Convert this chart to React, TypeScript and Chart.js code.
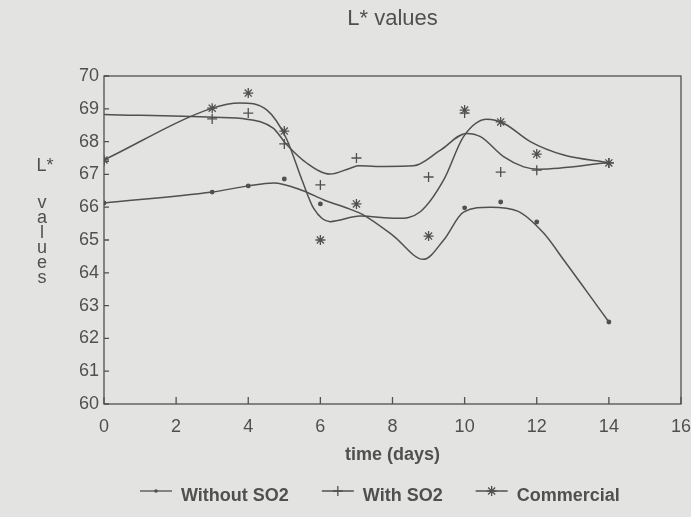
import React, { useEffect, useRef } from "react";
import { Chart, registerables } from "chart.js";

Chart.register(...registerables);

const FONT = '"Liberation Sans", Arial, Helvetica, sans-serif';
const INK = "#505050";
const PAPER = "#e3e3e1";

const chartTitle = "L* values";
const xTitle = "time (days)";
const yTitleTop = "L*";
const yTitleLetters = ["v", "a", "l", "u", "e", "s"];
const seriesNames = ["Without SO2", "With SO2", "Commercial"];

const xRange = [0, 16];
const xStep = 2;
const yRange = [60, 70];
const yStep = 1;

// measured points
const withoutDays = [0, 3, 4, 5, 6, 10, 11, 12, 14];
const withoutValues = [66.13, 66.46, 66.65, 66.86, 66.1, 65.98, 66.16, 65.55, 62.5];
const sampleDays = [0, 3, 4, 5, 6, 7, 9, 10, 11, 12, 14];
const withValues = [67.4, 68.69, 68.87, 67.93, 66.68, 67.5, 66.92, 68.87, 67.07, 67.13, 67.35];
const commercialValues = [67.44, 69.02, 69.48, 68.32, 65.0, 66.1, 65.12, 68.96, 68.6, 67.62, 67.35];

// smoothed curves
const withoutCurveDays = [0, 3.0, 4.0, 4.7, 5.5, 6.1, 6.8, 7.2, 8.0, 8.86, 9.42, 9.97, 10.72, 11.47, 12.19, 12.75, 13.42, 14.0];
const withoutCurve = [66.13, 66.46, 66.65, 66.74, 66.51, 66.22, 65.95, 65.76, 65.15, 64.41, 65.0, 65.85, 66.0, 65.88, 65.21, 64.39, 63.38, 62.5];
const withCurveDays = [0, 3.03, 3.96, 4.69, 5.05, 5.63, 6.27, 6.83, 7.06, 7.8, 8.58, 9.33, 10.05, 10.44, 11.08, 11.64, 12.07, 14.0];
const withCurve = [68.83, 68.74, 68.68, 68.41, 67.93, 67.34, 67.01, 67.19, 67.26, 67.24, 67.26, 67.74, 68.25, 68.15, 67.54, 67.23, 67.16, 67.36];
const commercialCurveDays = [0, 3.0, 3.77, 4.52, 5.05, 5.49, 5.81, 6.27, 7.1, 8.12, 8.77, 9.42, 9.97, 10.62, 11.08, 11.82, 12.75, 14.0];
const commercialCurve = [67.44, 69.02, 69.18, 68.96, 68.11, 66.83, 65.97, 65.56, 65.73, 65.66, 65.86, 66.83, 68.15, 68.68, 68.56, 68.0, 67.59, 67.36];

const markerStyles = [
  { style: "circle", r: 1.8 },
  { style: "cross", r: 5 },
  { style: "star", r: 5 },
];

const pts = (xs: number[], ys: number[]) => xs.map((x, i) => ({ x, y: ys[i] }));

function drawMarker(ctx: CanvasRenderingContext2D, style: string, x: number, y: number, r: number) {
  ctx.beginPath();
  if (style === "circle") {
    ctx.arc(x, y, r, 0, Math.PI * 2);
    ctx.fill();
    return;
  }
  ctx.moveTo(x - r, y);
  ctx.lineTo(x + r, y);
  ctx.moveTo(x, y - r);
  ctx.lineTo(x, y + r);
  if (style === "star") {
    const d = r * Math.SQRT1_2;
    ctx.moveTo(x - d, y - d);
    ctx.lineTo(x + d, y + d);
    ctx.moveTo(x - d, y + d);
    ctx.lineTo(x + d, y - d);
  }
  ctx.stroke();
}

const paperPlugin = {
  id: "paper",
  beforeDraw(chart: any) {
    const ctx = chart.ctx;
    ctx.save();
    ctx.fillStyle = PAPER;
    ctx.fillRect(0, 0, chart.width, chart.height);
    ctx.restore();
  },
};

const framePlugin = {
  id: "frame",
  afterDatasetsDraw(chart: any) {
    const { ctx, chartArea: a } = chart;
    ctx.save();
    ctx.strokeStyle = INK;
    ctx.lineWidth = 1.3;
    ctx.strokeRect(a.left, a.top, a.right - a.left, a.bottom - a.top);
    const ys = chart.scales.y;
    ctx.beginPath();
    ys.ticks.forEach((_t: any, i: number) => {
      const p = ys.getPixelForTick(i);
      ctx.moveTo(a.left, p);
      ctx.lineTo(a.left + 5, p);
    });
    const xs = chart.scales.x;
    xs.ticks.forEach((_t: any, i: number) => {
      const p = xs.getPixelForTick(i);
      ctx.moveTo(p, a.bottom);
      ctx.lineTo(p, a.bottom - 7);
    });
    ctx.stroke();
    ctx.restore();
  },
};

const yTitlePlugin = {
  id: "yTitleStacked",
  afterDraw(chart: any) {
    const { ctx, chartArea: a } = chart;
    ctx.save();
    ctx.fillStyle = INK;
    ctx.font = `18px ${FONT}`;
    ctx.textAlign = "center";
    ctx.textBaseline = "middle";
    ctx.fillText(yTitleTop, a.left - 59, a.top + 90);
    yTitleLetters.forEach((ch, i) => {
      ctx.fillText(ch, a.left - 62, a.top + 127 + i * 15);
    });
    ctx.restore();
  },
};

const legendPlugin = {
  id: "lineMarkerLegend",
  afterDraw(chart: any) {
    const { ctx, chartArea: a } = chart;
    ctx.save();
    ctx.font = `bold 18px ${FONT}`;
    ctx.fillStyle = INK;
    ctx.strokeStyle = INK;
    ctx.lineWidth = 1.3;
    ctx.textAlign = "left";
    ctx.textBaseline = "middle";
    const yText = chart.height - 21;
    const yLine = yText - 5;
    let x = a.left + 36;
    seriesNames.forEach((name, i) => {
      ctx.beginPath();
      ctx.moveTo(x, yLine);
      ctx.lineTo(x + 32, yLine);
      ctx.stroke();
      drawMarker(ctx, markerStyles[i].style, x + 16, yLine, markerStyles[i].r);
      ctx.fillText(name, x + 41, yText);
      x += 41 + ctx.measureText(name).width + 33;
    });
    ctx.restore();
  },
};

export default function App() {
  const ref = useRef<HTMLCanvasElement>(null);
  useEffect(() => {
    document.body.style.margin = "0";
    document.body.style.background = PAPER;
    const canvas = ref.current!;
    const lineDs = (label: string, data: any[]) => ({
      label,
      data,
      showLine: true,
      borderColor: INK,
      borderWidth: 1.5,
      pointRadius: 0,
      cubicInterpolationMode: "monotone",
      fill: false,
    });
    const markDs = (label: string, data: any[], i: number) => ({
      label,
      data,
      showLine: false,
      pointStyle: markerStyles[i].style,
      pointRadius: markerStyles[i].r,
      pointBorderWidth: 1.3,
      pointBorderColor: INK,
      pointBackgroundColor: INK,
      borderColor: INK,
      backgroundColor: INK,
    });
    const chart = new Chart(canvas, {
      type: "scatter",
      data: {
        datasets: [
          lineDs(seriesNames[0] + " curve", pts(withoutCurveDays, withoutCurve)),
          lineDs(seriesNames[1] + " curve", pts(withCurveDays, withCurve)),
          lineDs(seriesNames[2] + " curve", pts(commercialCurveDays, commercialCurve)),
          markDs(seriesNames[0], pts(withoutDays, withoutValues), 0),
          markDs(seriesNames[1], pts(sampleDays, withValues), 1),
          markDs(seriesNames[2], pts(sampleDays, commercialValues), 2),
        ] as any,
      },
      options: {
        responsive: false,
        animation: false,
        events: [],
        layout: { padding: { left: 0, right: 10, top: 0, bottom: 0 } },
        plugins: {
          legend: { display: false },
          tooltip: { enabled: false },
          title: {
            display: true,
            text: chartTitle,
            fullSize: false,
            color: INK,
            font: { family: FONT, size: 22, weight: "normal" },
            padding: { top: 6, bottom: 43.6 },
          },
        },
        scales: {
          x: {
            type: "linear",
            min: xRange[0],
            max: xRange[1],
            grid: { display: false, drawTicks: false, tickLength: 0 },
            border: { display: false },
            ticks: {
              stepSize: xStep,
              color: INK,
              padding: 12,
              maxRotation: 0,
              font: { family: FONT, size: 18 },
            },
            title: {
              display: true,
              text: xTitle,
              color: INK,
              font: { family: FONT, size: 18, weight: "bold" },
              padding: { top: 0, bottom: 51 },
            },
            afterFit: (s: any) => {
              s.height = 113;
              s.paddingLeft = 0;
              s.paddingRight = 0;
            },
          },
          y: {
            type: "linear",
            min: yRange[0],
            max: yRange[1],
            grid: { display: false, drawTicks: false, tickLength: 0 },
            border: { display: false },
            ticks: {
              stepSize: yStep,
              color: INK,
              padding: 5,
              font: { family: FONT, size: 18 },
            },
            afterFit: (s: any) => {
              s.width = 104;
              s.paddingTop = 0;
              s.paddingBottom = 0;
            },
          },
        },
      } as any,
      plugins: [paperPlugin, framePlugin, yTitlePlugin, legendPlugin],
    });
    return () => chart.destroy();
  }, []);
  return <canvas ref={ref} width={691} height={517} style={{ display: "block" }} />;
}
